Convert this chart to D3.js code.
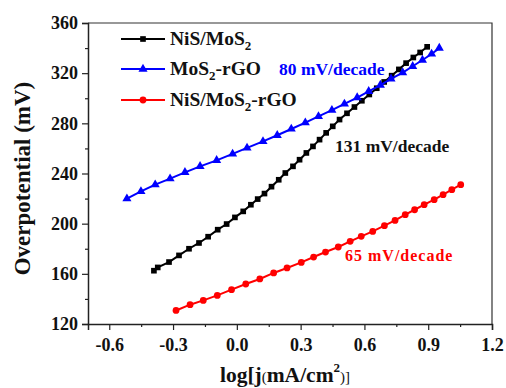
<!DOCTYPE html>
<html><head><meta charset="utf-8">
<script src="https://cdn.jsdelivr.net/npm/d3@7"></script>
<style>
html,body{margin:0;padding:0;background:#fff;}
svg text{font-family:"Liberation Serif","Times New Roman",serif;font-weight:bold;}
</style></head>
<body><svg id="c" width="506" height="388"></svg>
<script>
// ---- data ----
const seriesNames = ["NiS/MoS2", "MoS2-rGO", "NiS/MoS2-rGO"];
const blackX = [-0.390,-0.372,-0.319,-0.272,-0.225,-0.178,-0.135,-0.090,-0.048,-0.009,0.030,0.066,0.098,0.130,0.163,0.197,0.228,0.264,0.295,0.327,0.358,0.389,0.420,0.451,0.483,0.518,0.553,0.588,0.623,0.658,0.693,0.728,0.762,0.796,0.830,0.862,0.895];
const blackY = [162.5,165.1,169.4,174.7,180.0,184.6,189.6,195.2,199.7,205.0,209.8,215.1,219.6,224.0,229.5,235.0,240.4,245.7,251.0,256.4,261.6,267.0,272.4,277.6,283.0,288.0,293.0,298.0,303.0,308.0,313.0,318.0,323.0,328.0,332.5,336.5,341.0];
const blueX = [-0.517,-0.451,-0.384,-0.314,-0.244,-0.173,-0.095,-0.020,0.048,0.123,0.190,0.256,0.322,0.384,0.447,0.506,0.566,0.620,0.675,0.725,0.780,0.827,0.873,0.916,0.952];
const blueY = [219.9,225.7,231.1,235.9,240.9,245.7,250.5,255.6,260.4,265.6,270.5,275.5,280.5,285.5,290.5,295.5,300.5,305.5,310.5,315.5,320.5,325.5,330.5,335.3,340.0];
const redX = [-0.286,-0.220,-0.158,-0.092,-0.025,0.042,0.108,0.173,0.236,0.303,0.361,0.417,0.477,0.533,0.585,0.639,0.694,0.744,0.792,0.836,0.881,0.928,0.970,1.011,1.053];
const redY = [130.8,135.4,138.8,142.8,147.4,151.9,155.9,160.7,164.7,169.1,173.4,177.4,181.4,185.9,189.9,193.8,198.4,202.6,207.2,211.1,215.1,219.1,223.1,227.1,231.1];
const xTicks = [-0.6,-0.3,0.0,0.3,0.6,0.9,1.2];
const xMinor = [-0.45,-0.15,0.15,0.45,0.75,1.05];
const yTicks = [120,160,200,240,280,320,360];
const yMinor = [140,180,220,260,300,340];
const slopeLabels = ["80 mV/decade","131 mV/decade","65 mV/decade"];

// ---- layout ----
const svg = d3.select("#c");
const L = 88, R = 492, T = 23, B = 324;
const x = d3.scaleLinear().domain([-0.7,1.2]).range([L,R]);
const y = d3.scaleLinear().domain([120,360]).range([B,T]);

// frame top/right
svg.append("path").attr("d",`M${L},${T}H${R}V${B}`).attr("fill","none").attr("stroke","#333").attr("stroke-width",1.2);

// axes
const xAx = svg.append("g").attr("transform",`translate(0,${B})`)
  .call(d3.axisBottom(x).tickValues(xTicks).tickSize(6).tickPadding(8).tickFormat(d3.format(".1f")));
svg.append("g").attr("transform",`translate(0,${B})`)
  .call(d3.axisBottom(x).tickValues(xMinor).tickSize(3).tickFormat("")).select(".domain").remove();
const yAx = svg.append("g").attr("transform",`translate(${L},0)`)
  .call(d3.axisLeft(y).tickValues(yTicks).tickSize(6).tickPadding(4).tickFormat(d3.format("d")));
svg.append("g").attr("transform",`translate(${L},0)`)
  .call(d3.axisLeft(y).tickValues(yMinor).tickSize(3).tickFormat("")).select(".domain").remove();
svg.selectAll(".domain").attr("stroke","#222").attr("stroke-width",1.5);
svg.selectAll(".tick line").attr("stroke","#222").attr("stroke-width",1.2);
svg.selectAll(".tick text").attr("font-size",18).attr("fill","#111")
  .attr("font-family","'Liberation Serif',serif").attr("font-weight","bold");
xAx.selectAll(".tick text").text(d => d < 0 ? "-" + Math.abs(d).toFixed(1) : d.toFixed(1));

// axis titles
svg.append("text").attr("transform",`translate(30,${(T+B)/2+5}) rotate(-90)`)
  .attr("text-anchor","middle").attr("font-size",23).attr("fill","#111")
  .text("Overpotential (mV)");
const xt = svg.append("text").attr("x",285).attr("y",382).attr("text-anchor","middle")
  .attr("font-size",21.5).attr("fill","#111");
xt.append("tspan").text("log[j");
xt.append("tspan").attr("font-size",15).attr("font-weight","normal").text("(");
xt.append("tspan").text("mA/cm");
xt.append("tspan").attr("font-size",13).attr("dy",-10).text("2");
xt.append("tspan").attr("font-size",15).attr("font-weight","normal").attr("dy",10).text(")]");

// series
const series = [
  {xs:blackX, ys:blackY, color:"#000", sym:d3.symbolSquare, size:32},
  {xs:blueX, ys:blueY, color:"#0000ff", sym:d3.symbolTriangle, size:36},
  {xs:redX, ys:redY, color:"#ff0000", sym:d3.symbolCircle, size:36}
];
const line = d3.line().x(d=>x(d[0])).y(d=>y(d[1]));
series.forEach(s => {
  const pts = s.xs.map((v,i)=>[v,s.ys[i]]);
  svg.append("path").datum(pts).attr("d",line).attr("fill","none")
    .attr("stroke",s.color).attr("stroke-width",2);
  svg.append("g").selectAll("path").data(pts).join("path")
    .attr("transform",d=>`translate(${x(d[0])},${y(d[1])})`)
    .attr("d",d3.symbol().type(s.sym).size(s.size)).attr("fill",s.color);
});

// legend
const legY = [39,69,100];
series.forEach((s,i) => {
  svg.append("line").attr("x1",121).attr("x2",165).attr("y1",legY[i]).attr("y2",legY[i])
    .attr("stroke",s.color).attr("stroke-width",2);
  svg.append("path").attr("transform",`translate(143,${legY[i]})`)
    .attr("d",d3.symbol().type(s.sym).size(s.size)).attr("fill",s.color);
});
function legText(i, parts){
  const t = svg.append("text").attr("x",170).attr("y",legY[i]+6).attr("font-size",19.5).attr("fill","#111");
  parts.forEach(p => {
    const ts = t.append("tspan").text(p[0]);
    if (p[1]) ts.attr("font-size",13).attr("dy",5);
    else if (p[2]) ts.attr("dy",-5);
  });
}
legText(0, [["NiS/MoS"],["2",true]]);
legText(1, [["MoS"],["2",true],["-rGO",false,true]]);
legText(2, [["NiS/MoS"],["2",true],["-rGO",false,true]]);

// slope annotations
svg.append("text").attr("x",279).attr("y",75).attr("font-size",17.5).attr("fill","#0000ff").text(slopeLabels[0]);
svg.append("text").attr("x",335).attr("y",152).attr("font-size",17.5).attr("fill","#111").text(slopeLabels[1]);
svg.append("text").attr("x",345).attr("y",261).attr("font-size",16).attr("letter-spacing",1).attr("fill","#ff0000").text(slopeLabels[2]);
</script></body></html>
